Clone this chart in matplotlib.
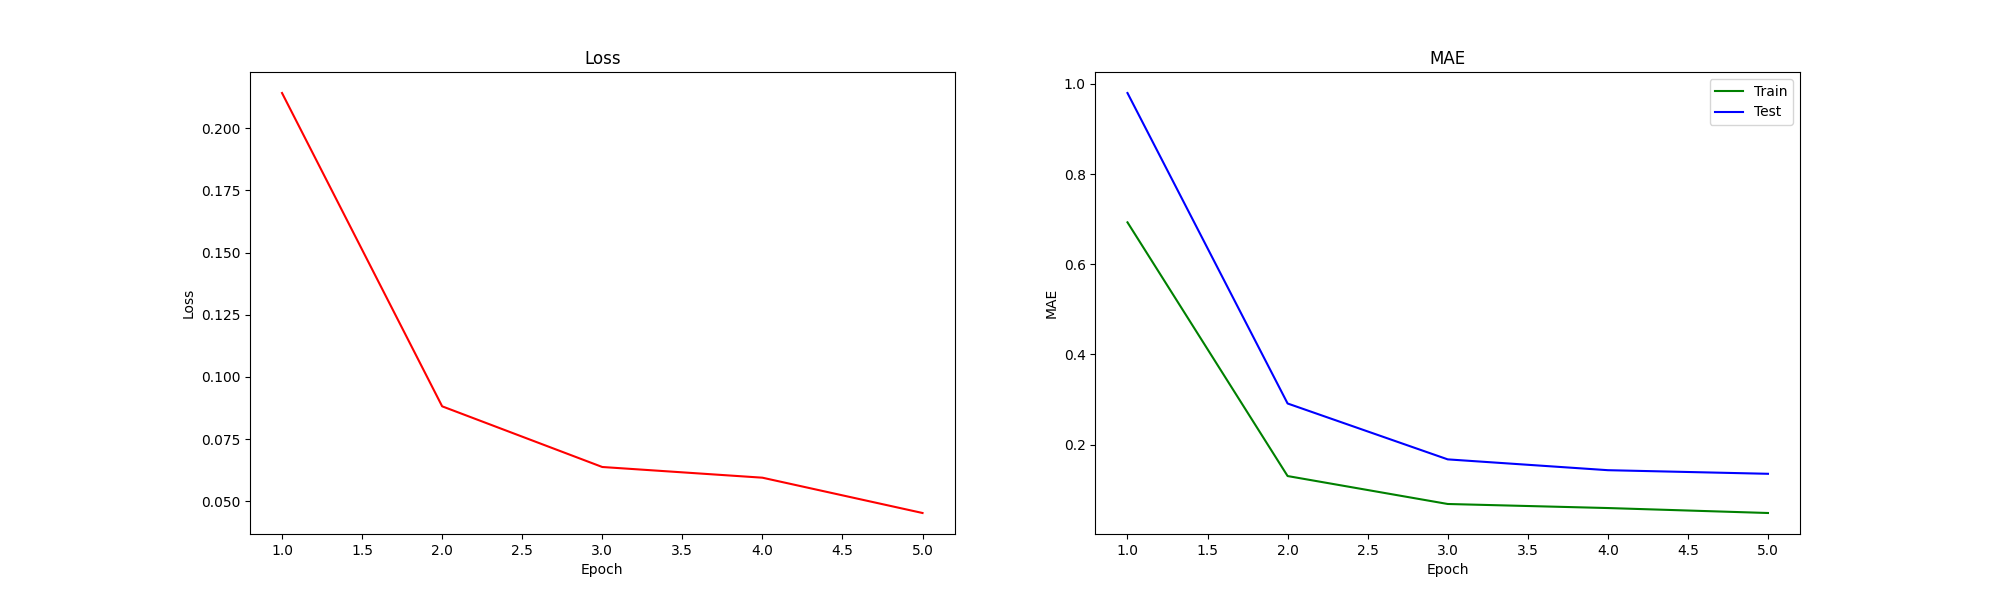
import matplotlib
matplotlib.use("Agg")
import matplotlib.pyplot as plt

epochs = [1, 2, 3, 4, 5]
loss = [0.2142, 0.0882, 0.0638, 0.0595, 0.0453]
train_mae = [0.693, 0.130, 0.068, 0.059, 0.048]
test_mae = [0.980, 0.291, 0.167, 0.143, 0.135]

fig, (ax1, ax2) = plt.subplots(1, 2, figsize=(20, 6), dpi=100)

ax1.plot(epochs, loss, color="red")
ax1.set_title("Loss")
ax1.set_xlabel("Epoch")
ax1.set_ylabel("Loss")

ax2.plot(epochs, train_mae, color="green", label="Train")
ax2.plot(epochs, test_mae, color="blue", label="Test")
ax2.set_title("MAE")
ax2.set_xlabel("Epoch")
ax2.set_ylabel("MAE")
ax2.legend()

fig.savefig("out.png")
plt.close(fig)
